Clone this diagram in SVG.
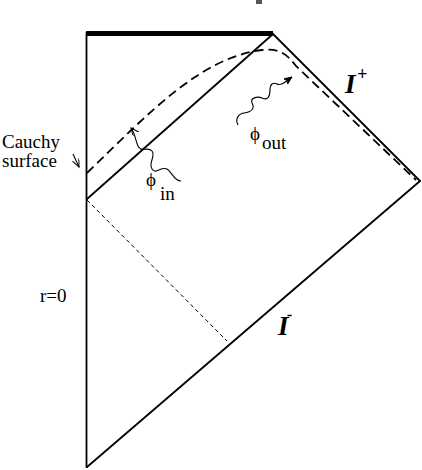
<svg xmlns="http://www.w3.org/2000/svg" width="422" height="470" viewBox="0 0 422 470">
<style>
.ln{stroke:#000;stroke-width:1.8;fill:none;stroke-linecap:round}
.dash{stroke:#000;stroke-width:1.8;fill:none;stroke-dasharray:9 5}
.thin{stroke:#000;stroke-width:1;fill:none;stroke-dasharray:4 3}
.wave{stroke:#000;stroke-width:1.1;fill:none}
.t{font-family:"Liberation Serif","DejaVu Serif",serif;font-size:19px;fill:#000}
.cal{font-family:"Liberation Serif","DejaVu Serif",serif;font-style:italic;font-weight:bold;fill:#000}
</style>
<defs>
<marker id="open" markerWidth="10" markerHeight="8" refX="8" refY="3.5" orient="auto" markerUnits="userSpaceOnUse">
<path d="M0,0 L8,3.5 L0,7" fill="none" stroke="#000" stroke-width="1"/>
</marker>
<marker id="fill" markerWidth="10" markerHeight="8" refX="8" refY="3.5" orient="auto" markerUnits="userSpaceOnUse">
<path d="M0,0 L8,3.5 L0,7 L2,3.5 Z" fill="#000" stroke="#000" stroke-width="0.8"/>
</marker>
</defs>
<rect width="422" height="470" fill="#fff"/>
<rect x="256" y="0" width="6" height="4" fill="#555"/>
<g id="boundaries">
<line class="ln" x1="86.5" y1="33" x2="86.5" y2="467"/>
<line x1="86" y1="33.5" x2="273" y2="33.5" stroke="#000" stroke-width="5"/>
<line class="ln" x1="273" y1="34" x2="420" y2="181"/>
<line class="ln" x1="87" y1="467" x2="420" y2="181"/>
<line class="ln" x1="87" y1="199" x2="273" y2="34"/>
</g>
<g id="connectors">
<path class="dash" d="M87,173 C150,112 200,58 262,50 C282,48 288,56 296,66 L416,180"/>
<line class="thin" x1="87" y1="200" x2="227" y2="341"/>
<line class="wave" x1="73" y1="154" x2="79" y2="167" marker-end="url(#open)"/>
<path class="wave" d="M181,181 C174,181 172,172 167,169 C161,166 156,175 152,169 C148,163 156,156 152,151 C148,146 141,153 138,146 C135,139 135,133 131,128" marker-end="url(#open)"/>
<path class="wave" d="M238,125 C235,119 238,114 244,113 C252,112 255,108 252,103 C250,98 257,96 262,98 C268,101 270,96 270,90 C270,84 273,82 277,84 C281,86 285,82 292,77" marker-end="url(#fill)"/>
</g>
<g id="labels">
<text class="t" font-family="Liberation Serif, serif" x="2" y="148">Cauchy</text>
<text class="t" font-family="Liberation Serif, serif" x="2" y="167">surface</text>
<text class="t" font-family="Liberation Serif, serif" x="40" y="302">r=0</text>
<text class="t" font-family="DejaVu Serif, serif" font-size="18" x="146" y="186">ϕ</text>
<text class="t" font-family="Liberation Serif, serif" x="160" y="200">in</text>
<text class="t" font-family="DejaVu Serif, serif" font-size="18" x="250" y="140">ϕ</text>
<text class="t" font-family="Liberation Serif, serif" x="262" y="149">out</text>
<text class="cal" font-family="Liberation Serif, serif" x="345" y="93" font-size="27">I</text>
<text class="cal" font-family="Liberation Serif, serif" x="357" y="80" font-size="18">+</text>
<text class="cal" font-family="Liberation Serif, serif" x="278" y="335" font-size="27">I</text>
<text class="cal" font-family="Liberation Serif, serif" x="287" y="320" font-size="16">-</text>
</g>
</svg>
